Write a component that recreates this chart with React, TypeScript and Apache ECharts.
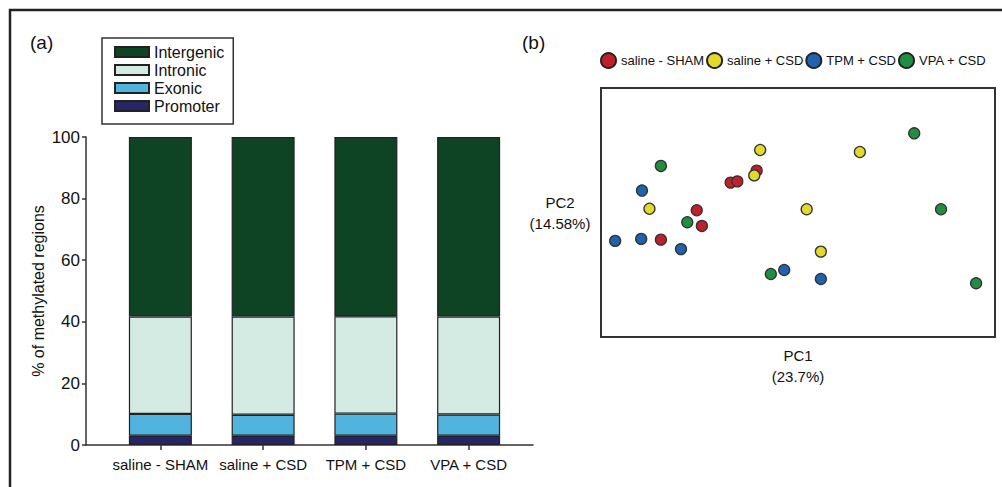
import React, { useEffect, useRef } from 'react';
import * as echarts from 'echarts';

const FONT = '"Liberation Sans", Arial, Helvetica, sans-serif';

// Panel (a): stacked composition of methylated regions (%)
const categories = ['saline - SHAM', 'saline + CSD', 'TPM + CSD', 'VPA + CSD'];
const regionNames = ['Intergenic', 'Intronic', 'Exonic', 'Promoter'];
const promoter = [3, 3, 3, 3];
const exonic = [7.1, 6.8, 7.2, 6.9];
const intronic = [31.6, 31.9, 31.6, 31.8];
const intergenic = [58.3, 58.3, 58.2, 58.3];
const regionColors = {
  Intergenic: '#0e4423',
  Intronic: '#d4ebe3',
  Exonic: '#50b4df',
  Promoter: '#272565',
};

// Panel (b): PCA scores (PC1, PC2) in arbitrary units
const groups = ['saline - SHAM', 'saline + CSD', 'TPM + CSD', 'VPA + CSD'];
const shamPoints = [
  [24.3, 50.9], [32.9, 62.0], [34.6, 62.5], [39.5, 66.8], [25.6, 44.6], [15.2, 39.1],
];
const salineCsdPoints = [
  [12.3, 51.5], [38.9, 64.9], [40.4, 75.1], [65.7, 74.3], [52.2, 51.3], [55.8, 34.3],
];
const tpmCsdPoints = [
  [10.4, 58.8], [3.6, 38.6], [10.2, 39.4], [20.3, 35.3], [46.5, 26.9], [55.8, 23.3],
];
const vpaCsdPoints = [
  [15.2, 68.7], [79.5, 81.8], [86.3, 51.3], [21.9, 46.1], [43.1, 25.3], [95.2, 21.6],
];
const groupColors = ['#c0202a', '#e3d92b', '#1f63ae', '#1f8f3f'];

export default function App() {
  const ref = useRef<HTMLDivElement>(null);

  useEffect(() => {
    if (!ref.current) return;
    const chart = echarts.init(ref.current, undefined, { renderer: 'svg' });

    const stackOrder: [string, number[]][] = [
      ['Promoter', promoter],
      ['Exonic', exonic],
      ['Intronic', intronic],
      ['Intergenic', intergenic],
    ];
    const barSeries = stackOrder.map(([name, values]) => ({
      type: 'bar',
      name,
      stack: 'regions',
      xAxisIndex: 0,
      yAxisIndex: 0,
      barWidth: 63,
      data: values,
      itemStyle: {
        color: (regionColors as any)[name],
        borderColor: '#222',
        borderWidth: 1.2,
      },
    }));

    const pointSets = [shamPoints, salineCsdPoints, tpmCsdPoints, vpaCsdPoints];
    const scatterSeries = groups.map((g, i) => ({
      type: 'scatter',
      name: g,
      xAxisIndex: 2,
      yAxisIndex: 2,
      symbol: 'circle',
      symbolSize: 11,
      data: pointSets[i],
      itemStyle: {
        color: groupColors[i],
        borderColor: '#333',
        borderWidth: 1.3,
        opacity: 1,
      },
    }));

    const option: any = {
      animation: false,
      backgroundColor: '#fff',
      textStyle: { fontFamily: FONT, color: '#111' },
      graphic: [
        {
          type: 'rect',
          shape: { x: 10, y: 10, width: 1100, height: 600 },
          style: { fill: 'none', stroke: '#222', lineWidth: 2.5 },
          silent: true,
        },
        {
          type: 'text',
          left: 30,
          top: 33,
          style: { text: '(a)', fontSize: 19, fontFamily: FONT, fill: '#111' },
        },
        {
          type: 'text',
          left: 522,
          top: 33,
          style: { text: '(b)', fontSize: 19, fontFamily: FONT, fill: '#111' },
        },
      ],
      legend: [
        {
          data: regionNames,
          orient: 'vertical',
          left: 102,
          top: 38,
          icon: 'rect',
          itemWidth: 34,
          itemHeight: 10,
          itemGap: 2,
          padding: [6, 9, 10, 12],
          borderColor: '#333',
          borderWidth: 1.5,
          backgroundColor: '#fff',
          selectedMode: false,
          textStyle: { fontSize: 16, lineHeight: 16, color: '#111', fontFamily: FONT },
        },
        {
          data: groups,
          orient: 'horizontal',
          left: 600,
          top: 52,
          width: 440,
          icon: 'circle',
          itemWidth: 15,
          itemHeight: 15,
          itemGap: 2,
          padding: 0,
          selectedMode: false,
          itemStyle: { borderColor: '#222', borderWidth: 2 },
          textStyle: { fontSize: 13, color: '#111', fontFamily: FONT },
        },
      ],
      grid: [
        { left: 109, width: 411, top: 137, bottom: 42 },
        { left: 86, right: 469, top: 137, bottom: 42 },
        { left: 601, top: 88, width: 394, height: 249, show: true, borderColor: '#333', borderWidth: 2, backgroundColor: 'transparent' },
      ],
      xAxis: [
        {
          gridIndex: 0,
          type: 'category',
          data: categories,
          axisLine: { show: false },
          axisTick: { show: true, alignWithLabel: true, length: 5, lineStyle: { color: '#333', width: 1.5 } },
          axisLabel: { fontSize: 15, color: '#111', margin: 12, fontFamily: FONT, interval: 0 },
          splitLine: { show: false },
        },
        {
          gridIndex: 1,
          type: 'value',
          min: 0,
          max: 1,
          axisLine: { show: true, onZero: false, lineStyle: { color: '#333', width: 1.5 } },
          axisTick: { show: false },
          axisLabel: { show: false },
          splitLine: { show: false },
        },
        {
          gridIndex: 2,
          type: 'value',
          min: 0,
          max: 100,
          axisLine: { show: false },
          axisTick: { show: false },
          axisLabel: { show: false },
          splitLine: { show: false },
          name: 'PC1\n(23.7%)',
          nameLocation: 'middle',
          nameGap: 8,
          nameTextStyle: { fontSize: 15, lineHeight: 21, color: '#111', fontFamily: FONT, align: 'center' },
        },
      ],
      yAxis: [
        {
          gridIndex: 0,
          type: 'value',
          min: 0,
          max: 100,
          show: false,
        },
        {
          gridIndex: 1,
          type: 'value',
          min: 0,
          max: 100,
          interval: 20,
          axisLine: { show: true, lineStyle: { color: '#333', width: 1.5 } },
          axisTick: { show: true, length: 4, lineStyle: { color: '#333', width: 1.5 } },
          axisLabel: { fontSize: 17, color: '#111', margin: 6, fontFamily: FONT },
          splitLine: { show: false },
          name: '% of methylated regions',
          nameLocation: 'middle',
          nameGap: 40,
          nameTextStyle: { fontSize: 16, color: '#111', fontFamily: FONT },
        },
        {
          gridIndex: 2,
          type: 'value',
          min: 0,
          max: 100,
          axisLine: { show: false },
          axisTick: { show: false },
          axisLabel: { show: false },
          splitLine: { show: false },
          name: 'PC2\n(14.58%)',
          nameLocation: 'middle',
          nameRotate: 0,
          nameGap: 41,
          nameTextStyle: { fontSize: 15, lineHeight: 21, color: '#111', fontFamily: FONT, align: 'center', verticalAlign: 'middle' },
        },
      ],
      series: [...barSeries, ...scatterSeries],
    };

    chart.setOption(option);
    return () => chart.dispose();
  }, []);

  return (
    <div
      ref={ref}
      style={{ position: 'fixed', left: 0, top: 0, width: 1002, height: 487, background: '#fff' }}
    />
  );
}
